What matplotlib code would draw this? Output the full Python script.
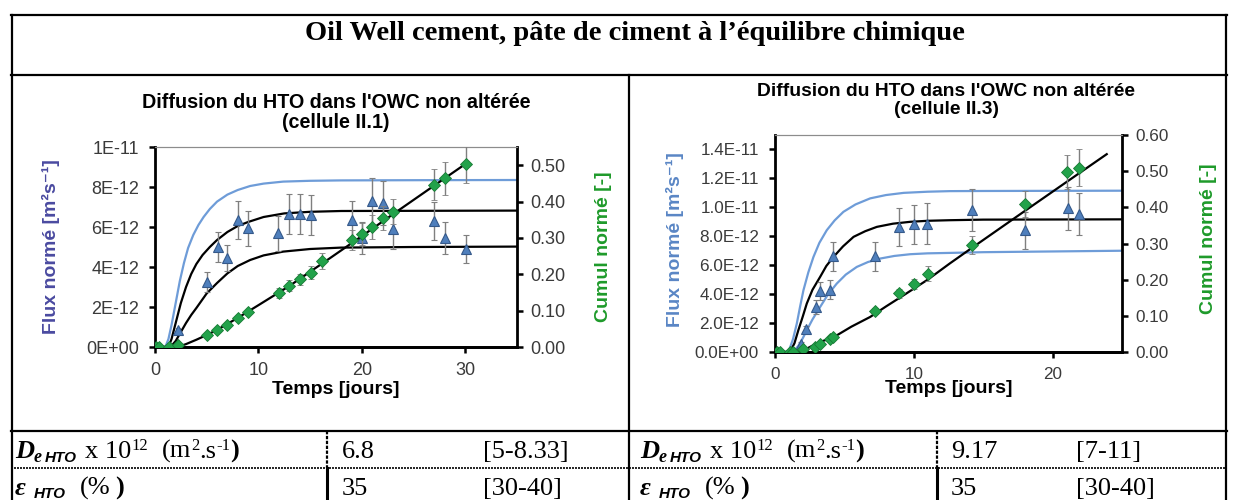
import matplotlib
matplotlib.use("Agg")
import matplotlib.pyplot as plt
from matplotlib.lines import Line2D

# ---------------- data (flux values in units of 1e-12 m2/s) ----------------
FLUX_UNIT = 1e-12

# Chart 1 : cellule II.1
c1_flux_t = [2.25, 5.05, 6.05, 7.0, 8.05, 8.95, 11.9, 13.0, 14.05, 15.05,
             19.0, 20.0, 21.0, 22.0, 23.0, 27.0, 28.0, 30.1]
c1_flux = [0.85, 3.27, 5.0, 4.43, 6.35, 5.93, 5.68, 6.65, 6.65, 6.6,
           6.35, 5.47, 7.32, 7.22, 5.88, 6.32, 5.43, 4.9]
c1_flux_err = [0.1, 0.5, 0.75, 0.65, 0.95, 0.88, 0.88, 1.0, 1.0, 0.98,
               0.95, 0.8, 1.15, 1.1, 0.98, 0.95, 0.8, 0.7]
c1_cum_t = [0.1, 0.4, 1.35, 2.25, 5.0, 6.0, 7.0, 8.05, 8.95, 12.0, 13.0,
            14.05, 15.05, 16.1, 19.0, 20.0, 21.0, 22.0, 23.0, 27.0, 28.0, 30.1]
c1_cum = [0, 0, 0, 0.005, 0.033, 0.047, 0.06, 0.079, 0.097, 0.148, 0.168,
          0.186, 0.204, 0.237, 0.294, 0.31, 0.331, 0.354, 0.372, 0.446, 0.464, 0.502]
c1_cum_err = [0, 0, 0, 0, 0.003, 0.004, 0.004, 0.005, 0.006, 0.014, 0.015,
              0.016, 0.018, 0.022, 0.028, 0.03, 0.033, 0.033, 0.034, 0.043, 0.046, 0.05]
c1_hi_t = [0, 1.0, 1.3, 1.6, 2.0, 2.4, 2.8, 3.2, 3.7, 4.2, 4.7, 5.3, 6.0, 7.0,
           8.0, 9.2, 10.5, 12.4, 15, 18, 25, 35]
c1_hi = [0, 0, 0.4, 1.1, 2.2, 3.3, 4.2, 4.95, 5.6, 6.1, 6.5, 6.9, 7.27, 7.62,
         7.85, 8.05, 8.17, 8.27, 8.31, 8.33, 8.34, 8.35]
c1_mid_t = [0, 1.3, 1.6, 2.0, 2.5, 3.0, 3.5, 4.0, 4.6, 5.3, 6.0, 7.0, 8.0, 9.0,
            10.5, 12.5, 15, 18, 35]
c1_mid = [0, 0, 0.4, 1.2, 2.2, 3.0, 3.65, 4.15, 4.6, 5.0, 5.35, 5.75, 6.05, 6.25,
          6.5, 6.68, 6.76, 6.8, 6.82]
c1_lo_t = [0, 1.5, 2.0, 2.5, 3.0, 3.5, 4.0, 5.0, 6.0, 7.0, 8.0, 9.2, 10.5, 12.4,
           15, 18, 25, 35]
c1_lo = [0, 0, 0.3, 0.75, 1.2, 1.6, 1.95, 2.68, 3.2, 3.68, 4.05, 4.35, 4.58, 4.77,
         4.9, 4.97, 5.0, 5.02]
c1_fit_t = [0, 2.0, 2.5, 3.0, 4.0, 5.0, 6.0, 8.0, 10.0, 13.0, 16.9, 20.0, 23.0, 27.0, 30.1]
c1_fit = [0, 0, 0.003, 0.008, 0.02, 0.033, 0.047, 0.08, 0.115, 0.168, 0.244,
          0.305, 0.365, 0.444, 0.505]

# Chart 2 : cellule II.3
c2_flux_t = [1.85, 2.24, 2.94, 3.25, 3.97, 4.21, 7.17, 8.9, 9.99, 10.95, 14.2, 18.0, 21.1, 21.9]
c2_flux = [0.58, 1.62, 3.11, 4.2, 4.32, 6.62, 6.62, 8.65, 8.82, 8.88, 9.8, 8.4, 9.92, 9.53]
c2_flux_err = [0.1, 0.2, 0.46, 0.62, 0.65, 1.0, 1.0, 1.3, 1.35, 1.4, 1.45, 1.3, 1.5, 1.45]
c2_cum_t = [0.12, 0.36, 1.08, 1.3, 2.04, 2.89, 3.25, 3.97, 4.16, 7.17, 8.9, 9.99,
            11.0, 14.2, 18.0, 21.06, 21.9]
c2_cum = [0, 0, 0, 0, 0.007, 0.014, 0.021, 0.037, 0.042, 0.113, 0.162, 0.187,
          0.217, 0.295, 0.409, 0.498, 0.51]
c2_cum_err = [0, 0, 0, 0, 0.002, 0.003, 0.004, 0.005, 0.005, 0.008, 0.012, 0.014,
              0.02, 0.025, 0.037, 0.048, 0.05]
c2_hi_t = [0, 0.97, 1.3, 1.57, 1.8, 2.05, 2.4, 2.77, 3.2, 3.73, 4.3, 4.93, 5.8,
           6.86, 8.0, 9.27, 11, 12.6, 15, 25]
c2_hi = [0, 0, 0.9, 1.96, 3.1, 4.27, 5.5, 6.57, 7.55, 8.42, 9.1, 9.69, 10.2,
         10.62, 10.85, 11.0, 11.08, 11.12, 11.13, 11.15]
c2_mid_t = [0, 1.08, 1.4, 1.68, 2.0, 2.29, 2.7, 3.25, 3.7, 4.21, 4.9, 5.66, 6.5,
            7.34, 8.5, 9.75, 11, 12.6, 15, 25]
c2_mid = [0, 0, 0.6, 1.5, 2.45, 3.35, 4.3, 5.19, 5.95, 6.57, 7.3, 7.96, 8.35,
          8.65, 8.87, 9.0, 9.07, 9.11, 9.15, 9.17]
c2_lo_t = [0, 1.32, 1.7, 2.0, 2.29, 2.7, 3.25, 3.8, 4.45, 5.1, 5.89, 6.7, 7.58,
           8.6, 9.75, 11, 12.6, 15, 25]
c2_lo = [0, 0, 0.45, 0.95, 1.5, 2.25, 3.11, 3.95, 4.73, 5.35, 5.88, 6.22, 6.46,
         6.64, 6.76, 6.82, 6.85, 6.9, 7.0]
c2_fit_t = [0, 1.5, 2.0, 2.52, 3.2, 4.0, 4.45, 5.5, 6.86, 8.0, 9.27, 11, 12.6,
            14.08, 18, 21, 23.9]
c2_fit = [0, 0, 0.003, 0.014, 0.027, 0.038, 0.046, 0.07, 0.097, 0.126, 0.157,
          0.2, 0.245, 0.285, 0.39, 0.47, 0.547]

# ticks / labels
c1_xticks = [0, 10, 20, 30]
c1_yticks = [0, 2, 4, 6, 8, 10]
c1_yticklabels = ["0E+00", "2E-12", "4E-12", "6E-12", "8E-12", "1E-11"]
c1_y2ticks = [0, 0.1, 0.2, 0.3, 0.4, 0.5]
c2_xticks = [0, 10, 20]
c2_yticks = [0, 2, 4, 6, 8, 10, 12, 14]
c2_yticklabels = ["0.0E+00", "2.0E-12", "4.0E-12", "6.0E-12", "8.0E-12",
                  "1.0E-11", "1.2E-11", "1.4E-11"]
c2_y2ticks = [0, 0.1, 0.2, 0.3, 0.4, 0.5, 0.6]

main_title = "Oil Well cement, pâte de ciment à l’équilibre chimique"
c1_title = ["Diffusion du HTO dans l'OWC non altérée", "(cellule II.1)"]
c2_title = ["Diffusion du HTO dans l'OWC non altérée", "(cellule II.3)"]
row_values = [["6.8", "[5-8.33]", "9.17", "[7-11]"],
              ["35", "[30-40]", "35", "[30-40]"]]

# ---------------- figure ----------------
W, H = 1236, 500
fig = plt.figure(figsize=(W / 100, H / 100), dpi=100)
fig.patch.set_facecolor("white")
SANS = ["Liberation Sans", "DejaVu Sans"]
SERIF = ["Liberation Serif", "DejaVu Serif"]


def fx(px):
    return px / W


def fy(py):
    return 1 - py / H


BLUE_MK = "#4F7FBC"
BLUE_EDGE = "#35598A"
GREEN_MK = "#22A24A"
GREEN_EDGE = "#177A34"
BLUE_LINE = "#6E9CD8"
ERR = "#7F7F7F"
TICKC = "#3A3A3A"


def draw_chart(px_box, xlim, xticks, yticks, yticklabels, ylim, y2ticks, y2lim,
               flux_t, flux, flux_err, cum_t, cum, cum_err, curves, fit_t, fit,
               tick_fs, ylab_color, ylab_x, y2lab_x, xlab_y, ylab_y):
    l, t, r, b = px_box
    ax = fig.add_axes([fx(l), fy(b), fx(r) - fx(l), fy(t) - fy(b)])
    ax2 = ax.twinx()
    ax.set_facecolor("white")
    for xs, ys, c in curves:
        ax.plot(xs, [v * FLUX_UNIT for v in ys], color=c, lw=1.6, zorder=3,
                solid_capstyle="butt")
    ax.errorbar(flux_t, [v * FLUX_UNIT for v in flux],
                yerr=[e * FLUX_UNIT for e in flux_err], fmt="^", ms=7.5,
                mfc=BLUE_MK, mec=BLUE_EDGE, mew=0.8, ecolor=ERR, elinewidth=1.0,
                capsize=2.5, capthick=1.0, zorder=4)
    ax2.errorbar(cum_t, cum, yerr=cum_err, fmt="D", ms=6, mfc=GREEN_MK,
                 mec=GREEN_EDGE, mew=0.6, ecolor=ERR, elinewidth=1.0,
                 capsize=2.5, capthick=1.0, zorder=4)
    ax2.plot(fit_t, fit, color="black", lw=1.6, zorder=3)

    ax.set_xlim(*xlim)
    ax.set_ylim(ylim[0] * FLUX_UNIT, ylim[1] * FLUX_UNIT)
    ax2.set_ylim(*y2lim)
    ax.set_xticks(xticks)
    ax.set_xticklabels([str(v) for v in xticks])
    ax.set_yticks([v * FLUX_UNIT for v in yticks])
    ax.set_yticklabels(yticklabels)
    ax2.set_yticks(y2ticks)
    ax2.set_yticklabels(["%.2f" % v for v in y2ticks])

    for a in (ax, ax2):
        for s in ("left", "right", "bottom"):
            a.spines[s].set_linewidth(2.0)
            a.spines[s].set_color("black")
        a.spines["top"].set_linewidth(0.8)
        a.spines["top"].set_color("#8C8C8C")
    ax.spines["right"].set_visible(False)
    ax2.spines["left"].set_visible(False)
    ax.tick_params(axis="both", direction="out", length=4.5, width=1.8,
                   color="black", labelsize=tick_fs, labelcolor=TICKC, pad=6)
    ax.tick_params(axis="y", pad=7)
    ax2.tick_params(axis="y", direction="out", length=4.5, width=1.8,
                    color="black", labelsize=tick_fs, labelcolor=TICKC, pad=5)
    for lab in ax.get_xticklabels() + ax.get_yticklabels() + ax2.get_yticklabels():
        lab.set_family(SANS)

    ax.set_ylabel("Flux normé [m²s⁻¹]", color=ylab_color, fontsize=14,
                  fontweight="bold", family=SANS)
    ax.yaxis.set_label_coords(ylab_x, ylab_y)
    ax2.set_ylabel("Cumul normé [-]", color="#1E9A2A", fontsize=14,
                   fontweight="bold", family=SANS, rotation=90)
    ax2.yaxis.set_label_coords(y2lab_x, ylab_y)
    ax.set_xlabel("Temps [jours]", fontsize=14, fontweight="bold", family=SANS)
    ax.xaxis.set_label_coords(0.5, xlab_y)
    return ax, ax2


draw_chart((155, 147, 517, 347), (0, 35), c1_xticks, c1_yticks, c1_yticklabels,
           (0, 10), c1_y2ticks, (0, 0.55),
           c1_flux_t, c1_flux, c1_flux_err, c1_cum_t, c1_cum, c1_cum_err,
           [(c1_hi_t, c1_hi, BLUE_LINE), (c1_mid_t, c1_mid, "black"),
            (c1_lo_t, c1_lo, "black")],
           c1_fit_t, c1_fit, 13, "#4A4AA0", -0.262, 1.2155, -0.17, 0.5)

draw_chart((775, 135, 1122, 352), (0, 25), c2_xticks, c2_yticks, c2_yticklabels,
           (0, 15), c2_y2ticks, (0, 0.6),
           c2_flux_t, c2_flux, c2_flux_err, c2_cum_t, c2_cum, c2_cum_err,
           [(c2_hi_t, c2_hi, BLUE_LINE), (c2_mid_t, c2_mid, "black"),
            (c2_lo_t, c2_lo, BLUE_LINE)],
           c2_fit_t, c2_fit, 12.3, "#5A86C5", -0.262, 1.225, -0.13, 0.52)

# chart titles
for cx, ys, ttl, fs in ((336, (103, 122), c1_title, 14.2),
                        (946, (92, 110), c2_title, 13.9)):
    for yy, line in zip(ys, ttl):
        fig.text(fx(cx), fy(yy), line, ha="center", va="center", fontsize=fs,
                 fontweight="bold", family=SANS)

# ---------------- table frame ----------------
def hline(y, x0, x1, lw=1.6, ls="-"):
    fig.add_artist(Line2D([fx(x0), fx(x1)], [fy(y), fy(y)], color="black", lw=lw,
                          ls=ls, transform=fig.transFigure))


def vline(x, y0, y1, lw=1.6, ls="-"):
    fig.add_artist(Line2D([fx(x), fx(x)], [fy(y0), fy(y1)], color="black", lw=lw,
                          ls=ls, transform=fig.transFigure))


hline(15, 11, 1227)
hline(75, 11, 1227)
vline(12, 15, 500)
vline(1226, 15, 500)
vline(629, 75, 500)
hline(431, 11, 1227)
hline(468, 11, 1227, lw=1.2, ls=(0, (1.2, 0.6)))
for xs in (327, 937):
    vline(xs, 431, 468, lw=1.6, ls=(0, (1.5, 0.7)))
    vline(xs, 468, 500, lw=2.2)

fig.text(fx(635), fy(33), main_title, ha="center", va="center", fontsize=20.5,
         fontweight="bold", family=SERIF)

# ---------------- table texts ----------------
fig.canvas.draw()
renderer = fig.canvas.get_renderer()


def chain(x, y, pieces):
    for txt, dy, gap, kw in pieces:
        tt = fig.text(fx(x), fy(y + dy), txt, va="baseline", ha="left", **kw)
        bb = tt.get_window_extent(renderer)
        x = bb.x1 + gap


BIG = 19
BIGS = dict(fontsize=BIG, family=SERIF)
for x0 in (15, 640):
    chain(x0, 458, [
        ("D", 0, 0, dict(fontsize=BIG, family=SERIF, fontweight="bold", style="italic")),
        ("e", 4, 3, dict(fontsize=13, family=SERIF, fontweight="bold", style="italic")),
        ("HTO", 4, 8, dict(fontsize=11, family=SANS, fontweight="bold", style="italic")),
        ("x 10", 0, 0, BIGS),
        ("12", -8, 14, dict(fontsize=12, family=SERIF)),
        ("(m", 0, 0, BIGS),
        ("2", -8, 0, dict(fontsize=12, family=SERIF)),
        (".s", 0, 0, BIGS),
        ("-1", -8, 0, dict(fontsize=12, family=SERIF)),
        (")", 0, 0, dict(fontsize=BIG, family=SERIF, fontweight="bold")),
    ])
    chain(x0, 495, [
        ("ε", 0, 8, dict(fontsize=BIG, family=SERIF, fontweight="bold", style="italic")),
        ("HTO", 3, 14, dict(fontsize=11, family=SANS, fontweight="bold", style="italic")),
        ("(%", 0, 5, BIGS),
        (")", 0, 0, dict(fontsize=BIG, family=SERIF, fontweight="bold")),
    ])

for ri, yy in enumerate((458, 495)):
    v = row_values[ri]
    for xx, s in zip((342, 483, 951, 1076), v):
        fig.text(fx(xx), fy(yy), s, va="baseline", ha="left", **BIGS)

fig.savefig("out.png", dpi=100, facecolor="white")
